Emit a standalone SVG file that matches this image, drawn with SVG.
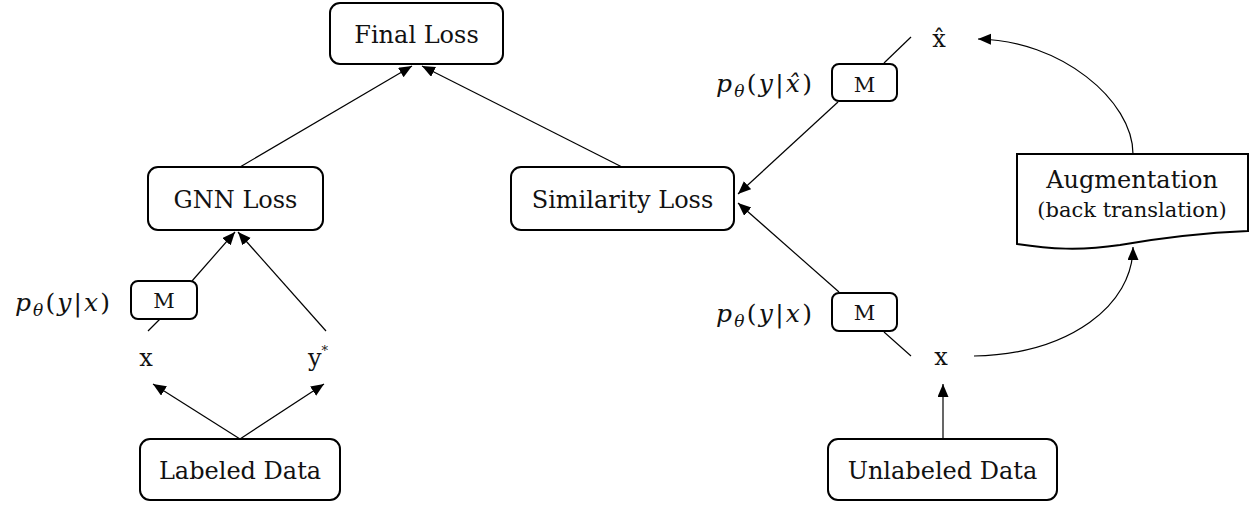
<svg xmlns="http://www.w3.org/2000/svg" width="1249" height="505" viewBox="0 0 1249 505">
<style>
.box{fill:#fff;stroke:#000;stroke-width:2}
.t{font-family:"DejaVu Serif","Liberation Serif",serif;font-size:24px;fill:#111;text-anchor:middle}
.m{font-family:"DejaVu Serif","Liberation Serif",serif;font-size:21px;fill:#111;text-anchor:middle}
.s{font-family:"DejaVu Serif","Liberation Serif",serif;font-size:21px;fill:#111;text-anchor:middle}
.math{font-family:"DejaVu Serif","Liberation Serif",serif;font-size:25px;fill:#111}
.i{font-style:italic}
.c{fill:none;stroke:#000;stroke-width:1.2}
</style>
<defs>
<marker id="ah" markerUnits="userSpaceOnUse" markerWidth="14" markerHeight="12" refX="13" refY="5.5" orient="auto">
<path d="M0,0 L13,5.5 L0,11 z" fill="#000"/>
</marker>
</defs>
<g id="connectors">
<path class="c" d="M240,167 L412,66" marker-end="url(#ah)"/>
<path class="c" d="M622,167 L422,66" marker-end="url(#ah)"/>
<path class="c" d="M192,281 L235,232" marker-end="url(#ah)"/>
<path class="c" d="M148,331 L160,319"/>
<path class="c" d="M326,331 L238,232" marker-end="url(#ah)"/>
<path class="c" d="M240,439 L153,384" marker-end="url(#ah)"/>
<path class="c" d="M240,439 L324,384" marker-end="url(#ah)"/>
<path class="c" d="M943,439 L943,384" marker-end="url(#ah)"/>
<path class="c" d="M974,356 C1070,354 1133,305 1133,247" marker-end="url(#ah)"/>
<path class="c" d="M1133,154 C1133,100 1060,40 978,39" marker-end="url(#ah)"/>
<path class="c" d="M911,356 L884,332"/>
<path class="c" d="M839,292 L738,203" marker-end="url(#ah)"/>
<path class="c" d="M911,37 L884,63"/>
<path class="c" d="M838,102 L738,194" marker-end="url(#ah)"/>
</g>
<g id="final-loss">
<rect class="box" x="330" y="3" width="173" height="61" rx="10"/>
<text class="t" x="416.5" y="43">Final Loss</text>
</g>
<g id="gnn-loss">
<rect class="box" x="148" y="167" width="175" height="63" rx="10"/>
<text class="t" x="235.5" y="208">GNN Loss</text>
</g>
<g id="similarity-loss">
<rect class="box" x="511" y="167" width="223" height="63" rx="10"/>
<text class="t" x="622.5" y="208">Similarity Loss</text>
</g>
<g id="labeled-data">
<rect class="box" x="140" y="439" width="200" height="61" rx="10"/>
<text class="t" x="240" y="479">Labeled Data</text>
</g>
<g id="unlabeled-data">
<rect class="box" x="828" y="439" width="229" height="61" rx="10"/>
<text class="t" x="942.5" y="479">Unlabeled Data</text>
</g>
<g id="augmentation">
<path class="box" d="M1017,154 L1248,154 L1248,231 C1200,233 1160,238 1120,245 C1080,251 1050,249 1017,244 Z"/>
<text class="t" x="1132" y="188">Augmentation</text>
<text class="s" x="1132" y="217">(back translation)</text>
</g>
<g id="m-left">
<rect class="box" x="131" y="281" width="66" height="38" rx="7"/>
<text class="m" x="164" y="308">M</text>
</g>
<g id="m-right-top">
<rect class="box" x="832" y="64" width="65" height="37" rx="7"/>
<text class="m" x="864.5" y="92">M</text>
</g>
<g id="m-right-bottom">
<rect class="box" x="832" y="293" width="65" height="38" rx="7"/>
<text class="m" x="864.5" y="320">M</text>
</g>
<g id="x-left"><text class="t" x="146" y="366">x</text></g>
<g id="y-star"><text class="t" x="318" y="366">y<tspan font-size="13" dy="-11">*</tspan></text></g>
<g id="x-right"><text class="t" x="941" y="365">x</text></g>
<g id="x-hat"><text class="t" x="939" y="47">x̂</text></g>
<g id="label-left">
<text class="math" x="15" y="311" textLength="95" lengthAdjust="spacing"><tspan class="i">p</tspan><tspan class="i" font-size="17" dy="5">θ</tspan><tspan dy="-5">(</tspan><tspan class="i">y</tspan>|<tspan class="i">x</tspan>)</text>
</g>
<g id="label-right-top">
<text class="math" x="716" y="92" textLength="96" lengthAdjust="spacing"><tspan class="i">p</tspan><tspan class="i" font-size="17" dy="5">θ</tspan><tspan dy="-5">(</tspan><tspan class="i">y</tspan>|<tspan class="i">x̂</tspan>)</text>
</g>
<g id="label-right-bottom">
<text class="math" x="716" y="322" textLength="96" lengthAdjust="spacing"><tspan class="i">p</tspan><tspan class="i" font-size="17" dy="5">θ</tspan><tspan dy="-5">(</tspan><tspan class="i">y</tspan>|<tspan class="i">x</tspan>)</text>
</g>
</svg>
